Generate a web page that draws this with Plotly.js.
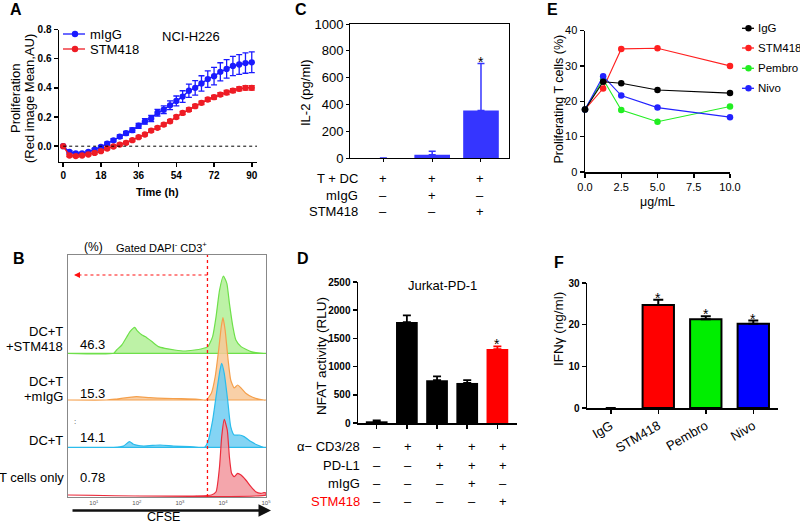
<!DOCTYPE html>
<html><head><meta charset="utf-8">
<script src="https://cdn.plot.ly/plotly-3.0.1.min.js"></script>
<style>html,body{margin:0;padding:0;background:#fff}#chart{width:800px;height:524px}</style>
</head><body><div id="chart"></div>
<script>
// ---------- Panel A: proliferation time course ----------
const timeH = [0,3,6,9,12,15,18,21,24,27,30,33,36,39,42,45,48,51,54,57,60,63,66,69,72,75,78,81,84,87,90];
const prolifIgG = [0,-0.04,-0.05,-0.05,-0.04,-0.023,-0.005,0.018,0.04,0.066,0.089,0.11,0.14,0.17,0.19,0.23,0.25,0.28,0.31,0.34,0.38,0.40,0.43,0.46,0.48,0.51,0.53,0.55,0.56,0.57,0.575];
const prolifIgGErr = [0,0.008,0.008,0.008,0.008,0.008,0.009,0.01,0.011,0.012,0.013,0.015,0.017,0.019,0.021,0.023,0.026,0.03,0.034,0.04,0.045,0.05,0.053,0.057,0.06,0.062,0.064,0.066,0.068,0.07,0.071];
const prolifSTM = [0,-0.064,-0.068,-0.064,-0.057,-0.046,-0.034,-0.016,-0.002,0.011,0.023,0.041,0.062,0.08,0.107,0.126,0.148,0.171,0.2,0.228,0.25,0.274,0.297,0.32,0.336,0.354,0.368,0.381,0.393,0.4,0.4];
const prolifSTMErr = [0,0.008,0.008,0.008,0.008,0.008,0.008,0.008,0.008,0.008,0.009,0.009,0.009,0.009,0.01,0.01,0.01,0.011,0.011,0.011,0.012,0.012,0.012,0.013,0.013,0.013,0.014,0.014,0.014,0.015,0.015];
const aSeriesNames = ['mIgG','STM418'];

// ---------- Panel C: IL-2 ----------
const il2Groups = [0,1,2];
const il2Values = [0,25,355];
const il2Err = [null,25,350];
const il2RowLabels = ['T + DC','mIgG','STM418'];
const il2Signs = [['+','+','+'],['–','+','–'],['–','–','+']];
const il2Sig = [false,false,true];

// ---------- Panel E: dose response ----------
const doseUgMl = [0,1.25,2.5,5,10];
const eNames = ['IgG','STM418','Pembro','Nivo'];
const eIgG = [17.7,25.5,25.1,23.2,22.3];
const eSTM418 = [17.7,23.6,34.8,35.0,30.0];
const ePembro = [17.7,26.2,17.5,14.2,18.5];
const eNivo = [17.7,27.1,21.6,18.2,15.5];

// ---------- Panel B: CFSE histograms (log10 CFSE, counts) ----------
const histNames = ['DC+T +STM418','DC+T +mIgG','DC+T','T cells only'];
const histPercent = ['46.3','15.3','14.1','0.78'];
const stmLogX = [0.4,1.46,1.53,1.65,1.76,1.84,1.95,2.0,2.12,2.19,2.35,2.5,2.65,2.88,3.1,3.34,3.49,3.65,3.76,3.84,3.92,4.01,4.09,4.15,4.23,4.3,4.42,4.65,4.95,5.0];
const stmCount = [0,0,3.3,8.3,16,21.7,26,23,18.3,16.7,11.7,6.7,5,3.3,2.3,3.3,4.3,6.7,16.7,36.7,63,77.3,70,50,26.7,13.3,6.7,1.7,0,0];
const iggLogX = [0.4,1.3,1.53,1.99,2.3,2.65,3.03,3.42,3.61,3.73,3.82,3.9,3.96,4.0,4.05,4.12,4.18,4.26,4.34,4.42,4.53,4.69,4.95,5.0];
const iggCount = [0,0,1,3.3,2.3,1.7,1.3,0.7,0,6.7,23.3,50,73,82.3,70,40,20,12,15,12,6.7,2.7,0,0];
const dctLogX = [0.4,1.46,1.69,1.83,1.92,2.15,2.54,2.85,3.23,3.57,3.65,3.76,3.86,3.93,3.97,4.03,4.11,4.18,4.26,4.38,4.49,4.65,4.8,4.95,5.0];
const dctCount = [0,0,1.3,5.7,3,1.3,2.3,1.3,0.7,0,5.7,27,57,77,84,74,47,20.7,12.3,12.3,10.7,5.7,2.3,0,0];
const tonlyLogX = [0.4,3.73,3.84,3.92,3.97,4.03,4.1,4.15,4.2,4.26,4.34,4.42,4.53,4.65,4.76,4.88,4.95,5.0];
const tonlyCount = [0,0,3.3,28,58,75.7,65,38,21.7,18.3,21.7,20,15,8.3,3.3,1.7,2.3,2];
const gateLog = 3.64;
const cfseTickVals = [1,2,3,4,5];
const cfseTickText = ['10<sup>1</sup>','10<sup>2</sup>','10<sup>3</sup>','10<sup>4</sup>','10<sup>5</sup>'];

// ---------- Panel D: NFAT ----------
const nfatGroups = [0,1,2,3,4];
const nfatValues = [30,1790,760,710,1310];
const nfatErr = [15,120,65,50,50];
const nfatSig = [false,false,false,false,true];
const nfatRowLabels = ['α− CD3/28','PD-L1','mIgG','STM418'];
const nfatSigns = [['–','+','+','+','+'],['–','–','+','+','+'],['–','–','–','+','–'],['–','–','–','–','+']];

// ---------- Panel F: IFNγ ----------
const ifnCats = ['IgG','STM418','Pembro','Nivo'];
const ifnValues = [0,24.7,21.3,20.2];
const ifnErr = [null,1.3,0.7,0.8];
const ifnSig = [false,true,true,true];

// ================= drawing =================
const W = 800, H = 524;
const FONT = 'Arial, "Liberation Sans", sans-serif';
const px = v => v / W;
const py = v => 1 - v / H;
const annotations = [];
const shapes = [];
function T(text, x, y, o) {
  o = o || {};
  const a = {text: text, x: px(x), y: py(y), xref: 'paper', yref: 'paper', showarrow: false,
    xanchor: o.xanchor || 'center', yanchor: o.yanchor || 'middle',
    font: {family: FONT, size: o.size || 13, color: o.color || '#000', weight: o.weight || 400}};
  if (o.textangle !== undefined) a.textangle = o.textangle;
  annotations.push(a);
}
function legendItem(x0, x1, cx, cy, color, r) {
  shapes.push({type: 'line', xref: 'paper', yref: 'paper', x0: px(x0), x1: px(x1), y0: py(cy), y1: py(cy), line: {color: color, width: 1.3}});
  shapes.push({type: 'circle', xref: 'paper', yref: 'paper', xsizemode: 'pixel', ysizemode: 'pixel',
    xanchor: px(cx), yanchor: py(cy), x0: -r, x1: r, y0: -r, y1: r, fillcolor: color, line: {width: 0}});
}
const blackAxis = {showline: true, linecolor: '#000', linewidth: 1.5, ticks: 'outside', ticklen: 4, tickwidth: 1.5,
  tickcolor: '#000', showgrid: false, zeroline: false, fixedrange: true};
const data = [];

// ---- A ----
const aBlue = '#1a1aff', aRed = '#ee1c25';
[[prolifIgG, prolifIgGErr, aBlue], [prolifSTM, prolifSTMErr, aRed]].forEach((s, i) => {
  data.push({x: timeH, y: s[0], name: aSeriesNames[i], type: 'scatter', mode: 'lines+markers', xaxis: 'x', yaxis: 'y',
    line: {color: s[2], width: 1.5}, marker: {color: s[2], size: 6.3}, cliponaxis: false,
    error_y: {type: 'data', array: s[1], color: s[2], thickness: 1.3, width: 3}});
});
shapes.push({type: 'line', xref: 'x', yref: 'y', x0: 0, x1: 92.5, y0: 0, y1: 0, line: {color: '#000', width: 1, dash: 'dot'}});
legendItem(63, 85, 75, 34, aBlue, 3.2);
legendItem(63, 85, 75, 49, aRed, 3.2);
T(aSeriesNames[0], 88, 34, {xanchor: 'left', size: 13});
T(aSeriesNames[1], 88, 49, {xanchor: 'left', size: 13});
T('NCI-H226', 191, 37, {size: 13});
T('Proliferation', 15, 99, {textangle: -90, size: 13});
T('(Red image Mean,AU)', 29, 99, {textangle: -90, size: 13});
T('Time (h)', 157, 192, {size: 11, weight: 700});
T('A', 15.5, 9, {size: 16, weight: 700});

// ---- C ----
const cBlue = '#3535ff';
data.push({x: il2Groups, y: il2Values, type: 'bar', xaxis: 'x2', yaxis: 'y2', width: 0.73,
  marker: {color: cBlue, line: {width: 0}},
  error_y: {type: 'data', array: il2Err, arrayminus: il2Groups.map(() => 0), symmetric: false, color: cBlue, thickness: 1.5, width: 3.5}});
il2Groups.forEach((g, i) => {
  if (il2Sig[i]) annotations.push({text: '*', x: g, y: il2Values[i] + il2Err[i], xref: 'x2', yref: 'y2', showarrow: false,
    yanchor: 'bottom', yshift: -8, font: {family: FONT, size: 14, color: '#000'}});
});
const cCols = [383.3, 431.5, 480.3];
il2RowLabels.forEach((lab, r) => {
  const y = 178.3 + r * 16.7;
  T(lab, 359.5, y, {xanchor: 'right', size: 13});
  il2Signs[r].forEach((s, c) => T(s, cCols[c], y, {size: 13}));
});
T('IL-2 (pg/ml)', 305, 93, {textangle: -90, size: 13});
T('C', 300.5, 10, {size: 16, weight: 700});

// ---- E ----
const eColors = ['#000000', '#ff2020', '#22ee22', '#2222ff'];
const eSeries = [eIgG, eSTM418, ePembro, eNivo];
[1, 2, 3, 0].forEach(i => {
  data.push({x: doseUgMl, y: eSeries[i], name: eNames[i], type: 'scatter', mode: 'lines+markers', xaxis: 'x3', yaxis: 'y3',
    line: {color: eColors[i], width: 1.1}, marker: {color: eColors[i], size: 6.5}, cliponaxis: false});
});
[28.3, 48, 68.3, 88.3].forEach((y, i) => {
  legendItem(742, 754, 748.5, y, eColors[i], 3.2);
  T(eNames[i], 755.5, y, {xanchor: 'left', size: 11.5});
});
T('Proliferating T cells (%)', 558, 99.5, {textangle: -90, size: 12.5});
T('μg/mL', 657, 202, {size: 12.5});
T('E', 552.5, 10, {size: 16, weight: 700});

// ---- B ----
const hist = [
  [stmLogX, stmCount, 143.7, '#6ee04a', 'rgba(178,240,150,0.85)'],
  [iggLogX, iggCount, 97, '#f5a04c', 'rgba(248,200,152,0.85)'],
  [dctLogX, dctCount, 49.7, '#2bbcec', 'rgba(110,205,242,0.85)'],
  [tonlyLogX, tonlyCount, 2, '#ec2c3c', 'rgba(242,150,158,0.85)']
];
hist.forEach((h, i) => {
  const xs = h[0].concat([h[0][h[0].length - 1], h[0][0]]);
  const ys = h[1].map(v => v + h[2]).concat([h[2], h[2]]);
  data.push({x: xs, y: ys, name: histNames[i], type: 'scatter', mode: 'lines', fill: 'toself', fillcolor: h[4],
    line: {color: h[3], width: 1.2, shape: 'spline', smoothing: 0.5}, xaxis: 'x4', yaxis: 'y4', hoverinfo: 'name'});
});
shapes.push({type: 'line', xref: 'x4', yref: 'y4 domain', x0: gateLog, x1: gateLog, y0: 0, y1: 1, layer: 'above',
  line: {color: '#ff1010', width: 1.3, dash: 'dot'}});
shapes.push({type: 'line', xref: 'x4', yref: 'y4', x0: gateLog, x1: 0.62, y0: 222, y1: 222,
  line: {color: '#ff1010', width: 1.1, dash: 'dot'}});
annotations.push({text: '', x: 0.54, y: 222, xref: 'x4', yref: 'y4', ax: 0.66, ay: 222, axref: 'x4', ayref: 'y4',
  showarrow: true, arrowhead: 2, arrowsize: 1.2, arrowwidth: 1, arrowcolor: '#ff1010', standoff: 0});
annotations.push({text: '', x: px(271), y: py(510.5), xref: 'paper', yref: 'paper', ax: -200, ay: 0,
  showarrow: true, arrowhead: 2, arrowsize: 1, arrowwidth: 2.5, arrowcolor: '#111', standoff: 0});
T('CFSE', 163, 516.5, {size: 12.5});
T('(%)', 93.5, 246.5, {size: 12});
T('Gated DAPI<sup>-</sup> CD3<sup>+</sup>', 161.5, 246.5, {size: 11});
T('DC+T', 65, 331, {xanchor: 'right'});
T('+STM418', 65, 346, {xanchor: 'right'});
T('DC+T', 65, 381, {xanchor: 'right'});
T('+mIgG', 65, 396, {xanchor: 'right'});
T('DC+T', 65, 440, {xanchor: 'right'});
T('T cells only', 65.5, 477, {xanchor: 'right'});
[344, 393, 437, 477].forEach((y, i) => T(histPercent[i], 77.5, y, {xanchor: 'left'}));
T(':', 75, 421, {size: 8, color: '#444'});
T('B', 19, 258.5, {size: 16, weight: 700});

// ---- D ----
const nfatColors = ['#000', '#000', '#000', '#000', '#ff0000'];
nfatGroups.forEach((g, i) => {
  data.push({x: [g], y: [nfatValues[i]], type: 'bar', xaxis: 'x5', yaxis: 'y5', width: 0.72,
    marker: {color: nfatColors[i], line: {width: 0}},
    error_y: {type: 'data', array: [nfatErr[i]], arrayminus: [0], symmetric: false, color: nfatColors[i], thickness: 1.8, width: 4}});
  if (nfatSig[i]) annotations.push({text: '*', x: g, y: nfatValues[i] + nfatErr[i], xref: 'x5', yref: 'y5', showarrow: false,
    yanchor: 'bottom', yshift: -8, font: {family: FONT, size: 14, color: '#000'}});
});
nfatRowLabels.forEach((lab, r) => {
  const y = 446.7 + r * 18.3;
  T(lab, 361.7, y, {xanchor: 'right', color: r === 3 ? '#ff0000' : '#000'});
  nfatSigns[r].forEach((s, c) => T(s, 376.7 + c * 31.65, y));
});
T('Jurkat-PD-1', 442, 285);
T('NFAT activity (RLU)', 321, 356, {textangle: -90, size: 13.5});
T('D', 302.5, 258.5, {size: 16, weight: 700});

// ---- F ----
const ifnColors = ['#ffffff', '#ff0000', '#00ee00', '#0000ff'];
data.push({x: ifnCats.map((c, i) => i), y: ifnValues, type: 'bar', xaxis: 'x6', yaxis: 'y6', width: 0.66,
  marker: {color: ifnColors, line: {color: '#000', width: ifnValues.map(v => v > 0 ? 2 : 0)}},
  error_y: {type: 'data', array: ifnErr, arrayminus: ifnErr.map(() => 0), symmetric: false, color: '#000', thickness: 2, width: 5}});
ifnCats.forEach((c, i) => {
  if (ifnSig[i]) annotations.push({text: '*', x: i, y: ifnValues[i] + ifnErr[i], xref: 'x6', yref: 'y6', showarrow: false,
    yanchor: 'bottom', yshift: -8, font: {family: FONT, size: 14, color: '#000'}});
});
T('IFNγ (ng/ml)', 558, 329, {textangle: -90, size: 13.5});
T('F', 559, 262, {size: 16, weight: 700});

const boldTick = {family: FONT, size: 10, color: '#000', weight: 700};
const layout = {
  width: W, height: H, margin: {l: 0, r: 0, t: 0, b: 0}, paper_bgcolor: '#fff', plot_bgcolor: 'rgba(0,0,0,0)',
  showlegend: false, font: {family: FONT, color: '#000'},
  // A
  xaxis: Object.assign({}, blackAxis, {domain: [px(59), px(257)], range: [-2, 92.5], anchor: 'y',
    tickvals: [0, 18, 36, 54, 72, 90], tickfont: boldTick}),
  yaxis: Object.assign({}, blackAxis, {domain: [py(161.5), py(29.5)], range: [-0.105, 0.8], anchor: 'x',
    tickvals: [0, 0.2, 0.4, 0.6, 0.8], tickformat: '.1f', tickfont: boldTick}),
  // C
  xaxis2: Object.assign({}, blackAxis, {domain: [px(350), px(509.3)], range: [-0.684, 2.58], anchor: 'y2',
    tickvals: il2Groups, showticklabels: false, mirror: true, linewidth: 1, tickwidth: 1, ticklen: 3}),
  yaxis2: Object.assign({}, blackAxis, {domain: [py(158), py(24)], range: [0, 1000], anchor: 'x2',
    dtick: 200, mirror: true, linewidth: 1, tickwidth: 1, ticklen: 3, tickfont: {family: FONT, size: 13, color: '#000'}}),
  // E
  xaxis3: Object.assign({}, blackAxis, {domain: [px(585), px(730)], range: [0, 10], anchor: 'y3',
    tickvals: [0, 2.5, 5, 7.5, 10], tickformat: '.1f', tickfont: {family: FONT, size: 11, color: '#000'}}),
  yaxis3: Object.assign({}, blackAxis, {domain: [py(172), py(30.5)], range: [0, 40], anchor: 'x3',
    dtick: 10, tickfont: {family: FONT, size: 11, color: '#000'}}),
  // B
  xaxis4: {domain: [px(68), px(266)], range: [0.4, 5.0], anchor: 'y4', showline: true, mirror: true, linecolor: '#888',
    linewidth: 1, showgrid: false, zeroline: false, ticks: '', tickvals: cfseTickVals, ticktext: cfseTickText,
    tickfont: {family: FONT, size: 6, color: '#555'}, fixedrange: true},
  yaxis4: {domain: [py(497), py(255)], range: [0, 242], anchor: 'x4', showline: true, mirror: true, linecolor: '#888',
    linewidth: 1, showgrid: false, zeroline: false, showticklabels: false, ticks: '', fixedrange: true},
  // D
  xaxis5: Object.assign({}, blackAxis, {domain: [px(358), px(517)], range: [-0.62, 4.65], anchor: 'y5',
    tickvals: nfatGroups, showticklabels: false}),
  yaxis5: Object.assign({}, blackAxis, {domain: [py(423), py(282)], range: [0, 2500], anchor: 'x5',
    dtick: 500, tickfont: boldTick}),
  // F
  xaxis6: Object.assign({}, blackAxis, {domain: [px(587), px(778)], range: [-0.5, 3.52], anchor: 'y6',
    tickvals: ifnCats.map((c, i) => i), ticktext: ifnCats, tickangle: -30, tickfont: {family: FONT, size: 13, color: '#000'}}),
  yaxis6: Object.assign({}, blackAxis, {domain: [py(408), py(283)], range: [0, 30], anchor: 'x6',
    dtick: 10, tickfont: boldTick}),
  annotations: annotations, shapes: shapes
};
Plotly.newPlot('chart', data, layout, {staticPlot: true, displayModeBar: false});
</script></body></html>
